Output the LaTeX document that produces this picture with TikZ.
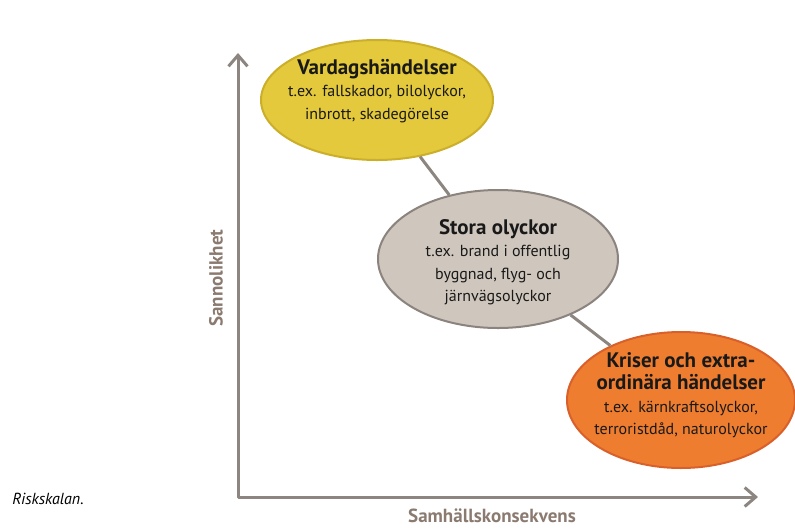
\documentclass[tikz,border=0pt]{standalone}
\usepackage{fontspec}
\setmainfont{PT Sans}
\usetikzlibrary{shapes.geometric,arrows.meta}

\definecolor{axisgray}{HTML}{8C8580}
\definecolor{labelgray}{HTML}{8A7A70}
\definecolor{vardagfill}{HTML}{E3C93B}
\definecolor{vardagline}{HTML}{CBAE2A}
\definecolor{storafill}{HTML}{CFC7BD}
\definecolor{storaline}{HTML}{8B837D}
\definecolor{krisfill}{HTML}{EE7D30}
\definecolor{krisline}{HTML}{D9602A}

\newcommand{\rubrik}[1]{{\bfseries\fontsize{21}{22.5}\selectfont #1}}

\begin{document}
\begin{tikzpicture}[x=1pt,y=-1pt,
  axis/.style={line width=3pt,axisgray,line join=round,
    arrows={Straight Barb[length=11pt,width=19pt,line width=3pt]-Straight Barb[length=11pt,width=19pt,line width=3pt]}},
  link/.style={line width=3pt,axisgray},
  bubble/.style={ellipse,line width=2pt,inner sep=0pt},
  bubbletext/.style={align=center,inner sep=0pt,text=black!90,
    font=\fontsize{16}{22.5}\selectfont},
  axislabel/.style={text=labelgray,font=\bfseries\fontsize{19}{20}\selectfont}]
\useasboundingbox (0,0) rectangle (795,528);

% axes
\coordinate (o) at (238,497);
\coordinate (ytip) at (238,53);
\coordinate (xtip) at (758,497);
\draw[axis] (ytip) -- (o) -- (xtip);

\node[axislabel,rotate=90] (ylabel) at (216,278) {Sannolikhet};
\node[axislabel] (xlabel) at (492,516) {Samhällskonsekvens};
\node[font=\itshape\fontsize{16}{18}\selectfont] (caption) at (48,499) {Riskskalan.};

% bubbles
\node[bubble,fill=vardagfill,draw=vardagline,minimum width=232pt,minimum height=120pt] (vardag) at (377,100) {};
\node[bubble,fill=storafill,draw=storaline,minimum width=240pt,minimum height=138pt] (stora) at (498,259) {};
\node[bubble,fill=krisfill,draw=krisline,minimum width=228pt,minimum height=136pt] (kris) at (681,400) {};

\node[bubbletext] (vardagtext) at ([yshift=9pt]vardag.center)
  {\rubrik{Vardagshändelser}\\t.ex. fallskador, bilolyckor,\\inbrott, skadegörelse};
\node[bubbletext] (storatext) at ([yshift=-3pt]stora.center)
  {\rubrik{Stora olyckor}\\t.ex. brand i offentlig\\byggnad, flyg- och\\järnvägsolyckor};
\node[bubbletext] (kristext) at ([yshift=5pt]kris.center)
  {\rubrik{Kriser och extra-}\\\rubrik{ordinära händelser}\\t.ex. kärnkraftsolyckor,\\terroristdåd, naturolyckor};

\draw[link] (vardag) -- (stora);
\draw[link] (stora) -- (kris);
\end{tikzpicture}
\end{document}
